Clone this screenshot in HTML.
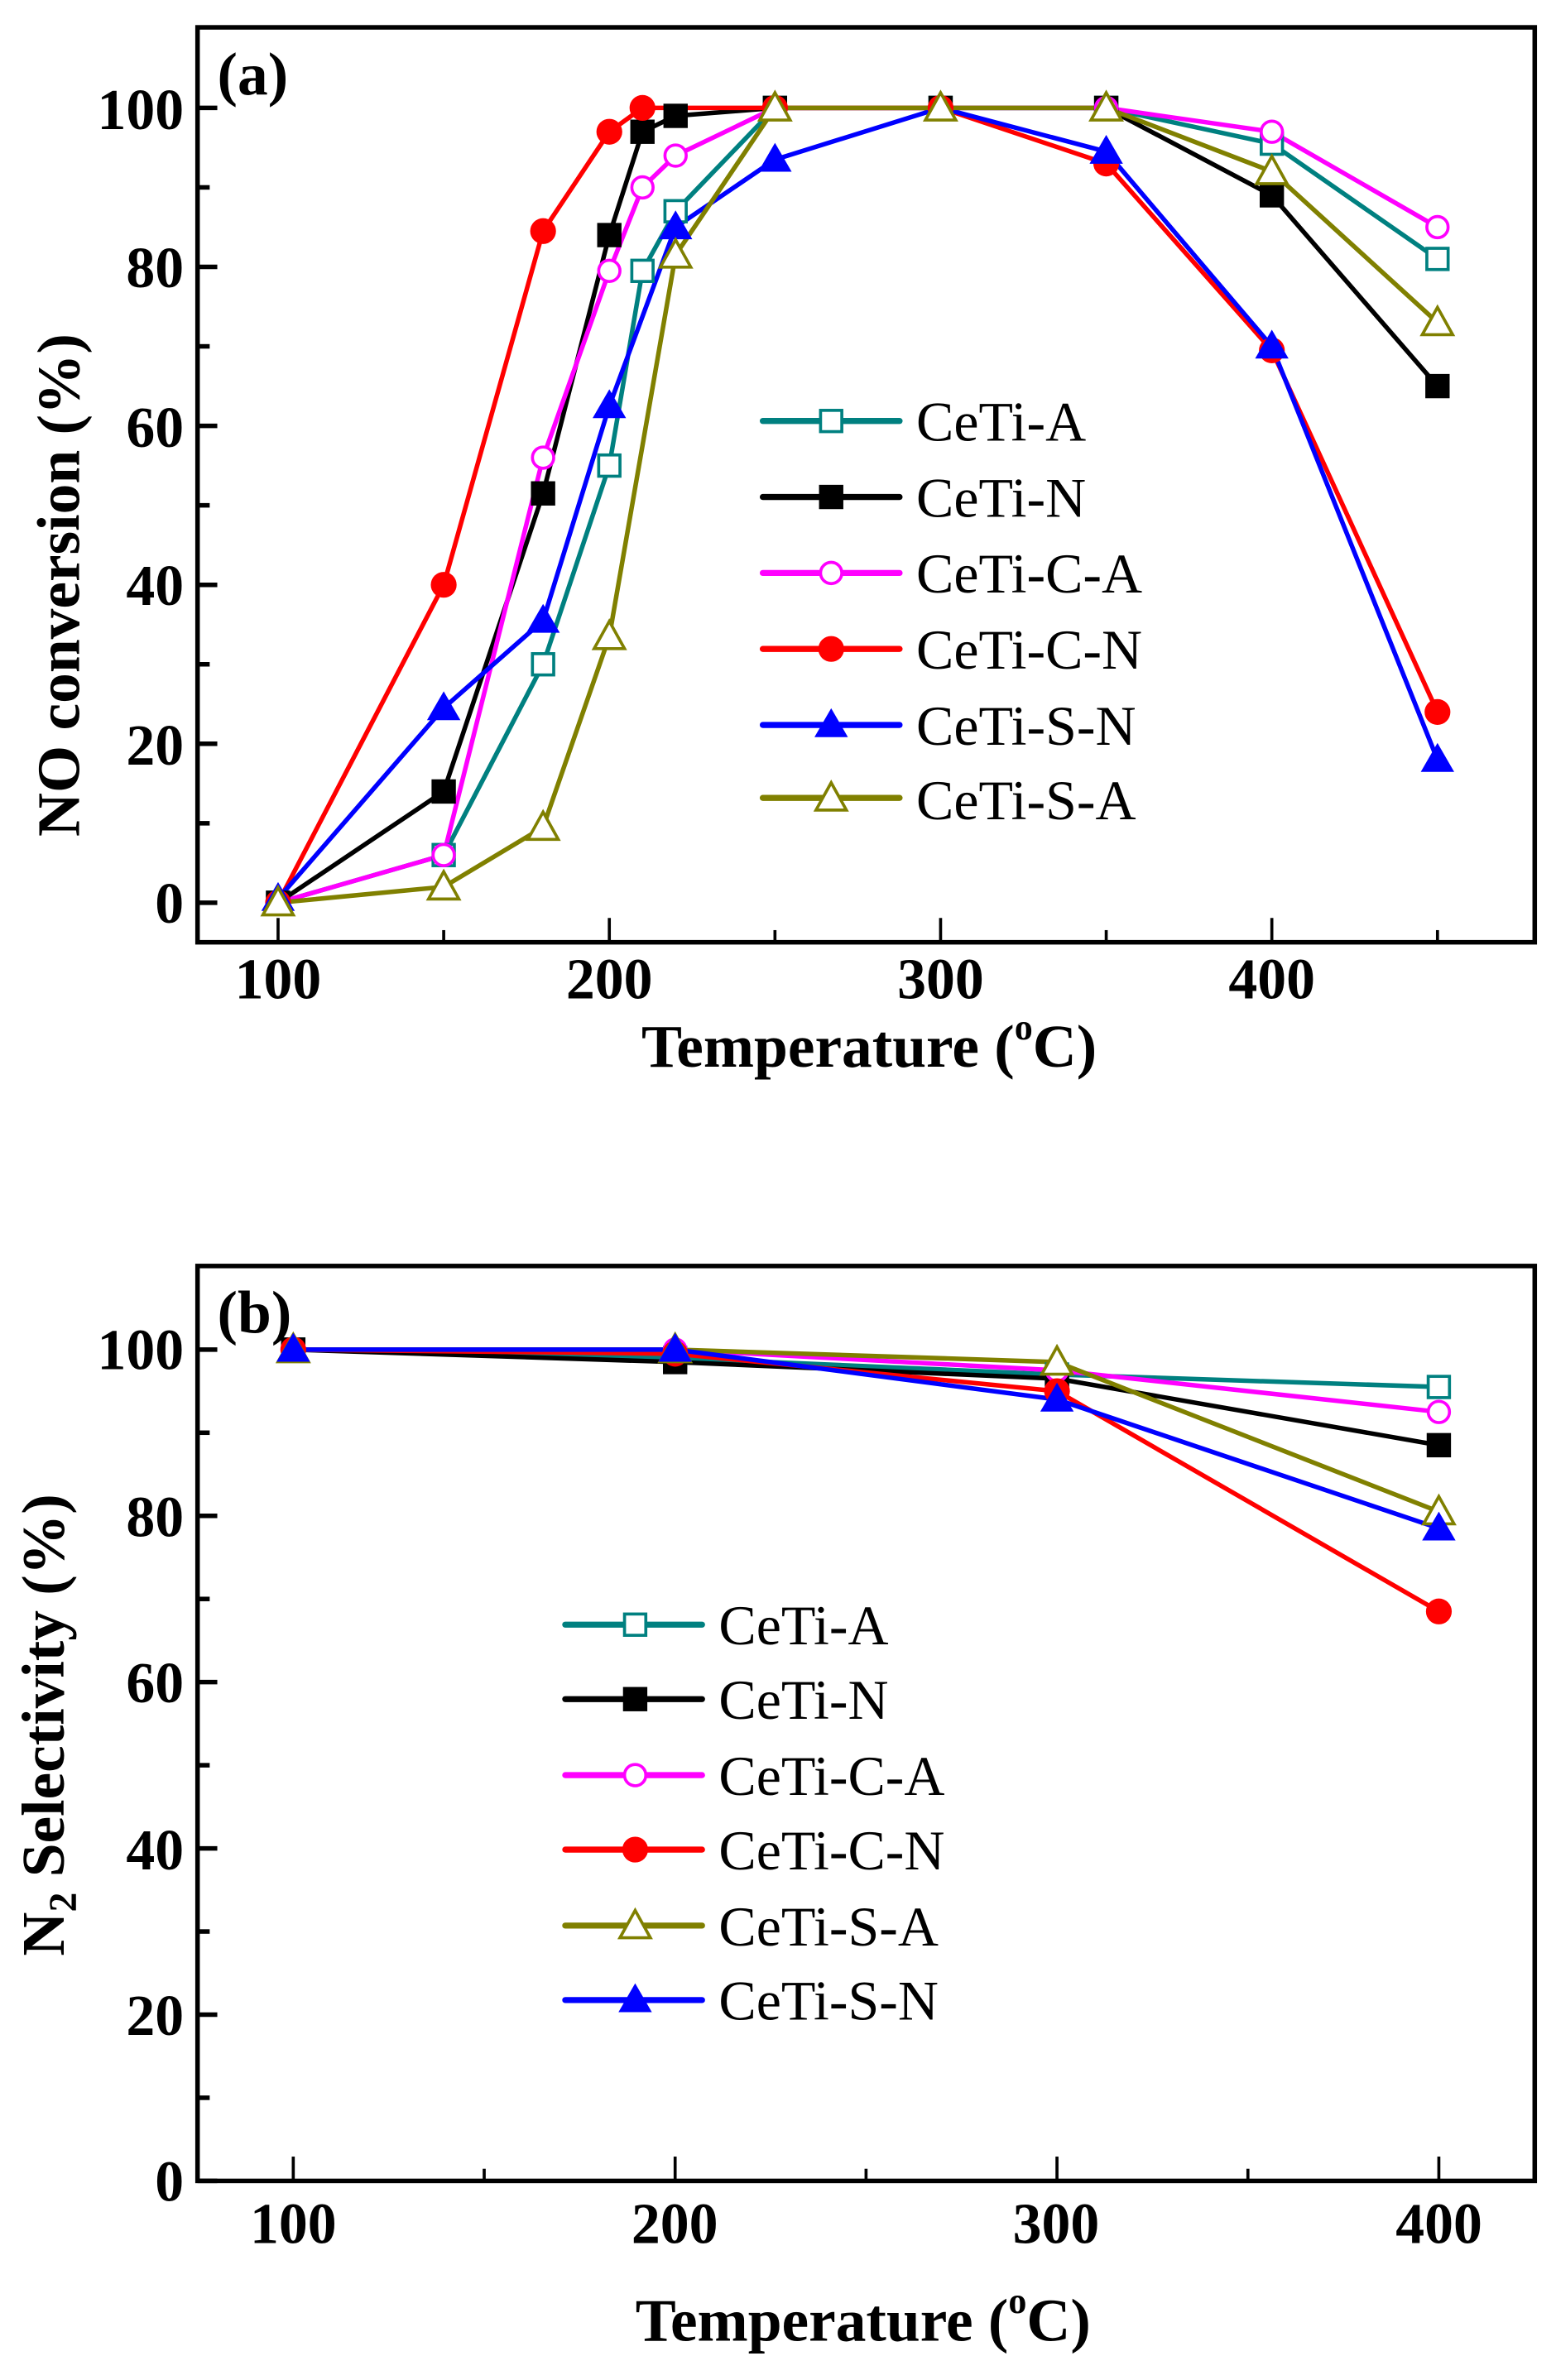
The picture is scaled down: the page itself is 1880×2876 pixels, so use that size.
<!DOCTYPE html>
<html><head><meta charset="utf-8"><style>
html,body{margin:0;padding:0;background:#fff;}
svg{display:block;}
text{font-family:"Liberation Serif",serif;}
.tk{font-weight:bold;font-size:38px;}
.ti{font-weight:bold;font-size:40px;}
.lg{font-size:37px;}
</style></head><body>
<svg id="s" width="1880" height="2876" viewBox="0 0 1024 1566" preserveAspectRatio="none" xmlns="http://www.w3.org/2000/svg">
<rect x="0" y="0" width="1024" height="1566" fill="#fff"/>
<g id="g"></g>
<!-- Panel a labels -->
<text class="ti" x="143" y="62" font-size="38">(a)</text>
<g class="tk" text-anchor="end">
<text x="121" y="607">0</text><text x="121" y="503">20</text><text x="121" y="398">40</text>
<text x="121" y="294">60</text><text x="121" y="189">80</text><text x="121" y="85">100</text>
</g>
<g class="tk" text-anchor="middle">
<text x="183" y="657">100</text><text x="401" y="657">200</text><text x="619" y="657">300</text><text x="837" y="657">400</text>
</g>
<text class="ti" x="572" y="702" text-anchor="middle">Temperature (<tspan font-size="24" dy="-18">o</tspan><tspan dy="18">C)</tspan></text>
<text class="ti" transform="translate(52,385) rotate(-90)" text-anchor="middle">NO conversion (%)</text>
<g class="lg">
<text x="603" y="290">CeTi-A</text><text x="603" y="340">CeTi-N</text><text x="603" y="390">CeTi-C-A</text>
<text x="603" y="440">CeTi-C-N</text><text x="603" y="490">CeTi-S-N</text><text x="603" y="539">CeTi-S-A</text>
</g>
<!-- Panel b labels -->
<text class="ti" x="143" y="877" font-size="38">(b)</text>
<g class="tk" text-anchor="end">
<text x="121" y="1448">0</text><text x="121" y="1339">20</text><text x="121" y="1230">40</text>
<text x="121" y="1120">60</text><text x="121" y="1011">80</text><text x="121" y="901">100</text>
</g>
<g class="tk" text-anchor="middle">
<text x="193" y="1476">100</text><text x="444" y="1476">200</text><text x="695" y="1476">300</text><text x="947" y="1476">400</text>
</g>
<text class="ti" x="568" y="1540" text-anchor="middle">Temperature (<tspan font-size="24" dy="-18">o</tspan><tspan dy="18">C)</tspan></text>
<text class="ti" transform="translate(42,1135) rotate(-90)" text-anchor="middle">N<tspan font-size="26" dy="8">2</tspan><tspan dy="-8"> Selectivity (%)</tspan></text>
<g class="lg">
<text x="473" y="1082">CeTi-A</text><text x="473" y="1131">CeTi-N</text><text x="473" y="1181">CeTi-C-A</text>
<text x="473" y="1230">CeTi-C-N</text><text x="473" y="1280">CeTi-S-A</text><text x="473" y="1329">CeTi-S-N</text>
</g>
</svg>
<script>
var NS="http://www.w3.org/2000/svg",g=document.getElementById("g");
function el(t,a){var e=document.createElementNS(NS,t);for(var k in a)e.setAttribute(k,a[k]);g.appendChild(e);return e;}
function marker(type,c,x,y){
 var s=8;
 if(type=="os")el("rect",{x:x-s+1,y:y-s+1,width:2*s-2,height:2*s-2,fill:"#fff",stroke:c,"stroke-width":2});
 if(type=="fs")el("rect",{x:x-s,y:y-s,width:2*s,height:2*s,fill:c});
 if(type=="oc")el("circle",{cx:x,cy:y,r:s-1,fill:"#fff",stroke:c,"stroke-width":2});
 if(type=="fc")el("circle",{cx:x,cy:y,r:s+0.5,fill:c});
 if(type=="ft")el("polygon",{points:(x)+","+(y-11)+" "+(x-11)+","+(y+8)+" "+(x+11)+","+(y+8),fill:c});
 if(type=="ot")el("polygon",{points:(x)+","+(y-10)+" "+(x-10)+","+(y+8)+" "+(x+10)+","+(y+8),fill:"#fff",stroke:c,"stroke-width":2});
}
function axes(L,R,T,B,xt,xmin,yt,ymin){
 el("rect",{x:L,y:T,width:R-L,height:B-T,fill:"none",stroke:"#000","stroke-width":3});
 xt.forEach(function(p){el("line",{x1:p[0],y1:B,x2:p[0],y2:B-(p[1]?16:8),stroke:"#000","stroke-width":2});});
 yt.forEach(function(p){el("line",{x1:L,y1:p[0],x2:L+(p[1]?13:8),y2:p[0],stroke:"#000","stroke-width":3});});
}
// Panel a
var ax=function(t){return 183+(t-100)*2.18;},ay=function(v){return 594-v*5.23;};
var xt=[];for(var t=100;t<=450;t+=50)xt.push([ax(t),t%100==0]);
var yt=[];for(var v=0;v<=100;v+=10)yt.push([ay(v),v%20==0]);
axes(130,1010,18,620,xt,0,yt,0);
var T=[100,150,180,200,210,220,250,300,350,400,450];
var A=[
["#008080","os",T,[0,6,30,55,79.5,87,100,100,100,95.5,81]],
["#000000","fs",T,[0,14,51.5,84,97,99,100,100,100,89,65]],
["#ff00ff","oc",T,[0,6,56,79.5,90,94,100,100,100,97,85]],
["#ff0000","fc",[100,150,180,200,210,250,300,350,400,450],[0,40,84.5,97,100,100,100,93,69.5,24]],
["#0000ff","ft",[100,150,180,200,220,250,300,350,400,450],[0.5,24.5,35.5,62.5,85,93.5,100,94.5,70,18]],
["#808000","ot",[100,150,180,200,220,250,300,350,400,450],[0,2,9.5,33.5,81.5,100,100,100,92,73]]
];
A.forEach(function(s){var pts=s[2].map(function(t,i){return ax(t)+","+ay(s[3][i]);}).join(" ");
 el("polyline",{points:pts,fill:"none",stroke:s[0],"stroke-width":3,"stroke-linejoin":"round"});});
A.forEach(function(s){s[2].forEach(function(t,i){marker(s[1],s[0],ax(t),ay(s[3][i]));});});
A.forEach(function(s,i){var y=[277,327,377,427,477,525][i];
 el("line",{x1:502,y1:y,x2:592,y2:y,stroke:s[0],"stroke-width":4,"stroke-linecap":"round"});marker(s[1],s[0],547,y);});
// Panel b
var bx=function(t){return 193+(t-100)*2.513;},by=function(v){return 1435-v*5.47;};
xt=[];for(t=100;t<=400;t+=50)xt.push([bx(t),t%100==0]);
yt=[];for(v=0;v<=100;v+=10)yt.push([by(v),v%20==0]);
axes(130,1010,833,1435,xt,0,yt,0);
var TB=[100,200,300,400];
var B=[
["#008080","os",[100,99,97,95.5]],
["#000000","fs",[100,98.5,96.5,88.5]],
["#ff00ff","oc",[100,100,97.5,92.5]],
["#ff0000","fc",[100,99.5,95,68.5]],
["#808000","ot",[100,100,98.5,80.5]],
["#0000ff","ft",[100,100,94,78.5]]
];
B.forEach(function(s){var pts=TB.map(function(t,i){return bx(t)+","+by(s[2][i]);}).join(" ");
 el("polyline",{points:pts,fill:"none",stroke:s[0],"stroke-width":3,"stroke-linejoin":"round"});});
B.forEach(function(s){TB.forEach(function(t,i){marker(s[1],s[0],bx(t),by(s[2][i]));});});
B.forEach(function(s,i){var y=[1069,1118,1168,1217,1267,1316][i];
 el("line",{x1:372,y1:y,x2:462,y2:y,stroke:s[0],"stroke-width":4,"stroke-linecap":"round"});marker(s[1],s[0],418,y);});
</script>
</body></html>
